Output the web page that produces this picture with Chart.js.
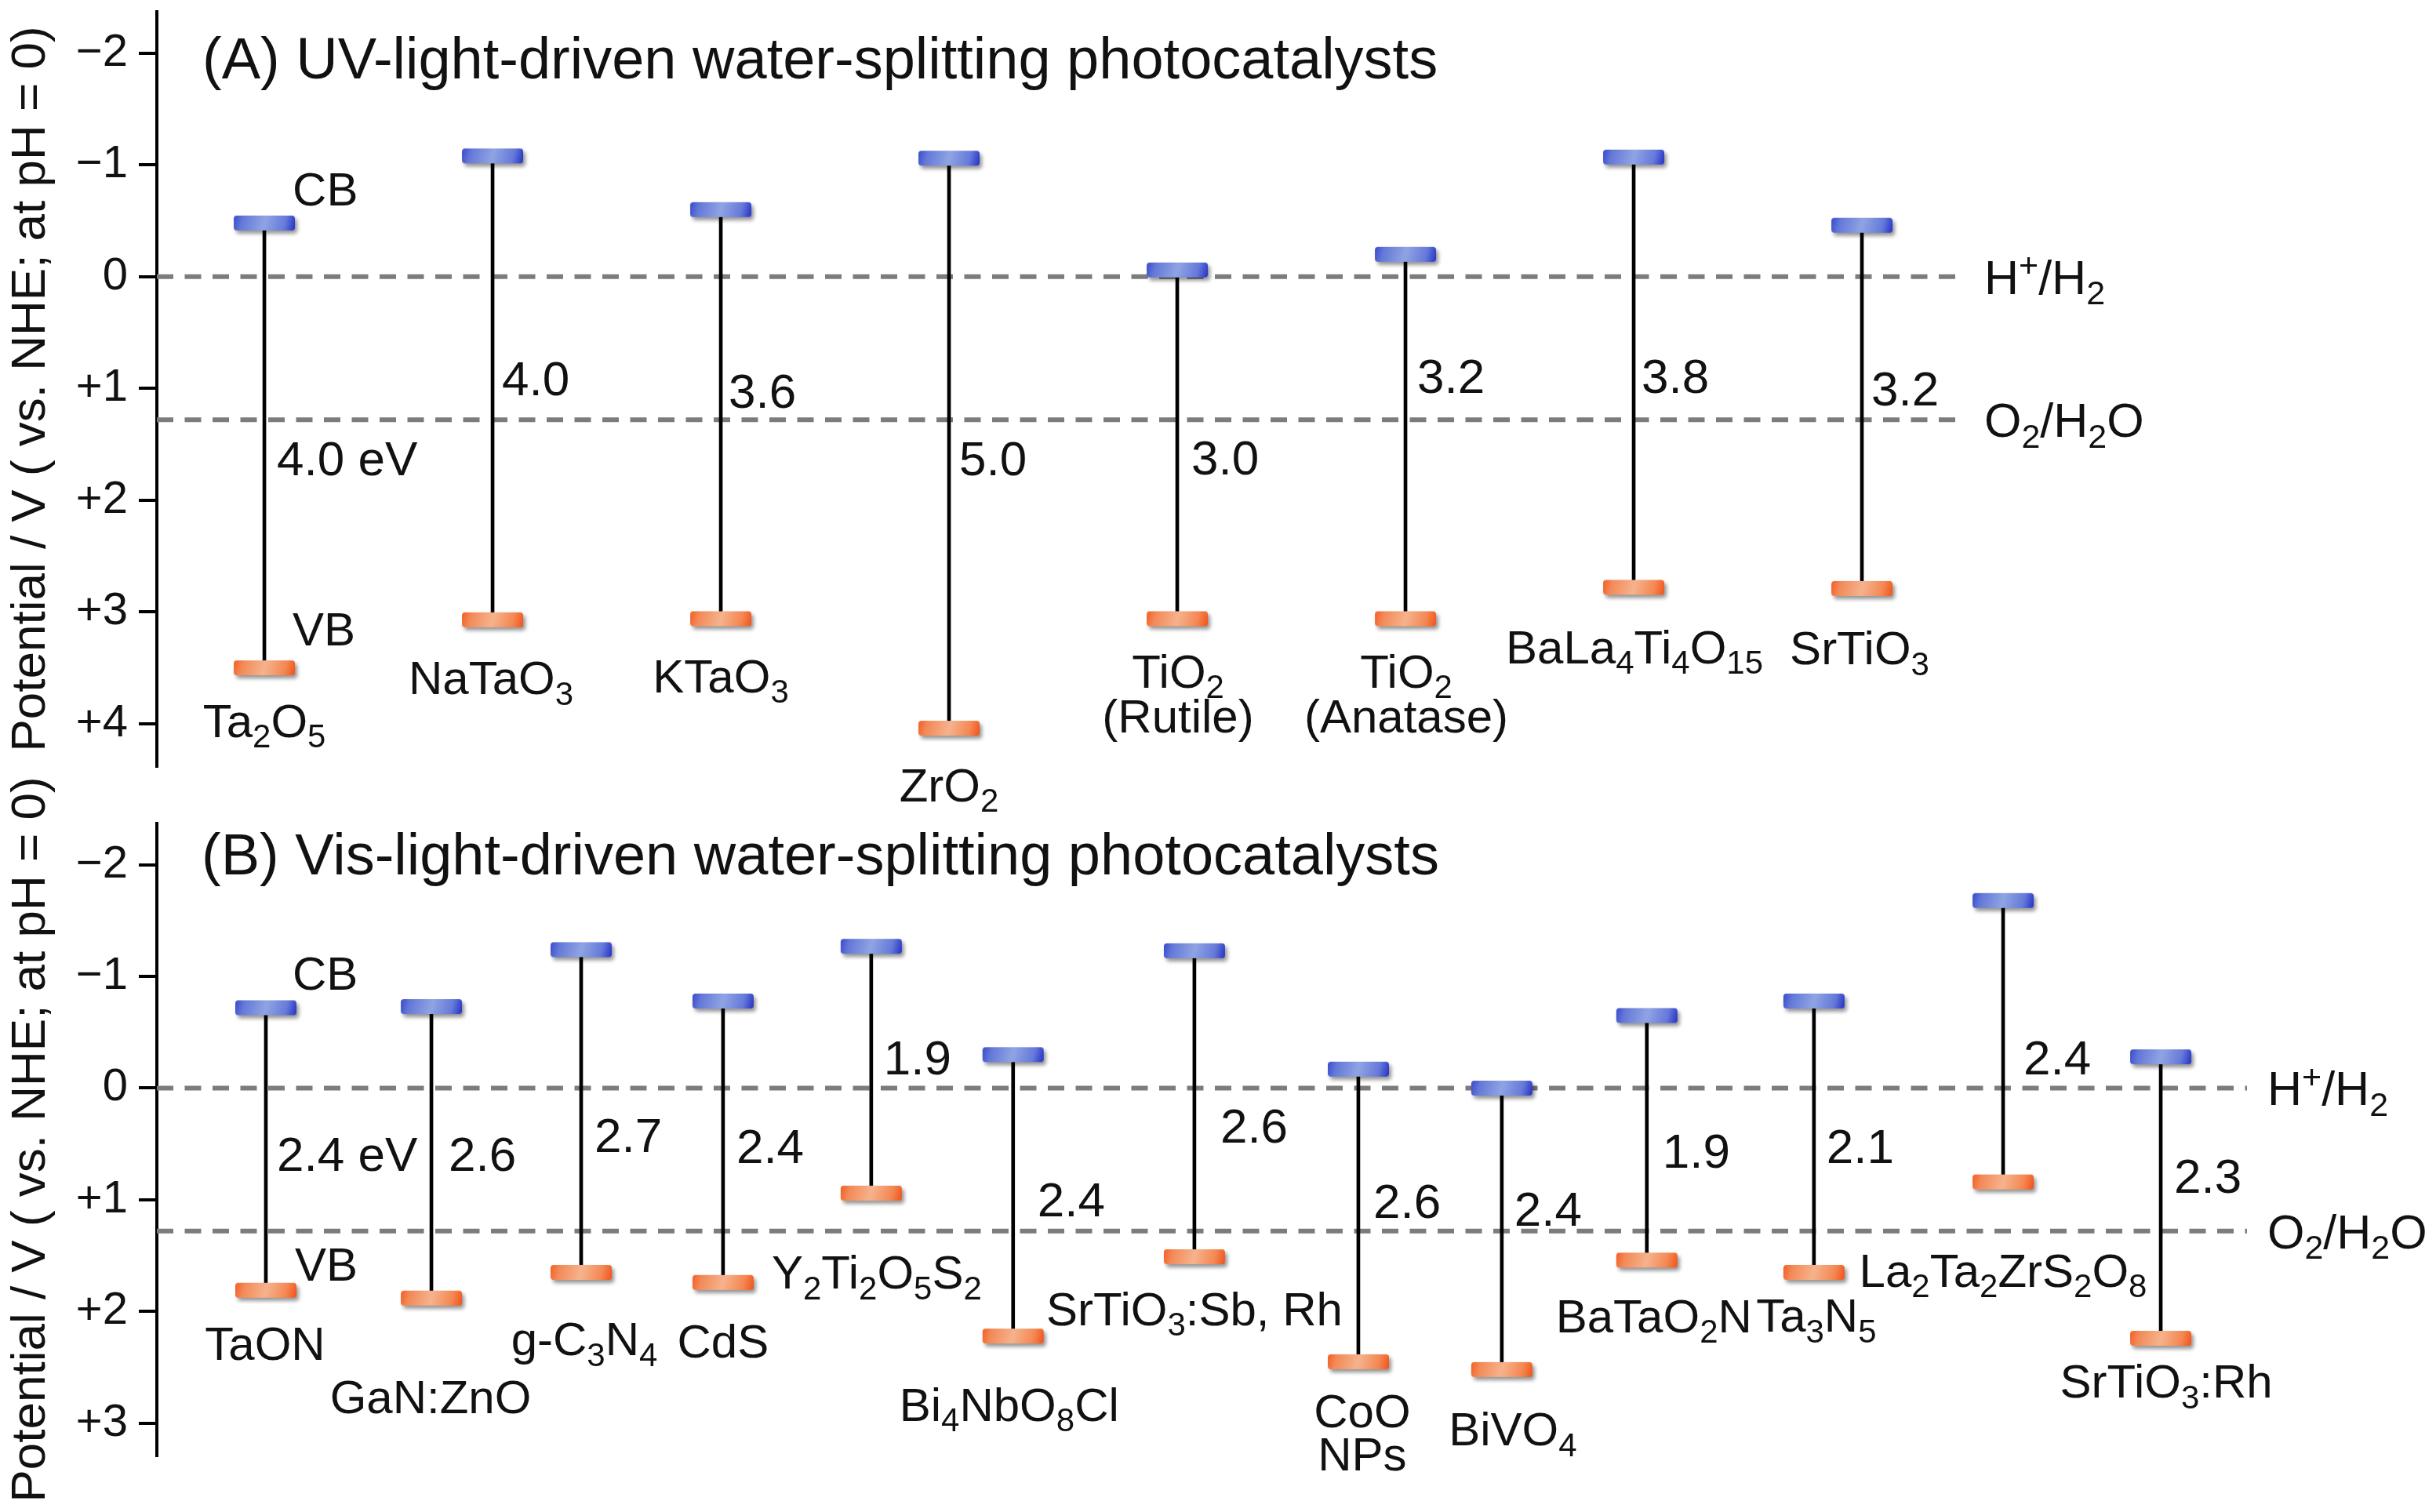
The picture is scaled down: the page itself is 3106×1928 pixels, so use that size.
<!DOCTYPE html>
<html>
<head>
<meta charset="utf-8">
<script src="https://cdn.jsdelivr.net/npm/chart.js@4.4.1/dist/chart.umd.min.js"></script>
<style>
  html, body { margin: 0; padding: 0; background: #fff; }
  #wrap { position: relative; width: 3106px; height: 1928px; overflow: hidden; }
  canvas { position: absolute; left: 0; }
  #panelA { top: 0; }
  #panelB { top: 990px; }
</style>
</head>
<body>
<div id="wrap">
  <canvas id="panelA" width="3106" height="1060"></canvas>
  <canvas id="panelB" width="3106" height="938"></canvas>
</div>
<script>
(function(){
  'use strict';

  const FONT = "'Liberation Sans', Arial, Helvetica, sans-serif";

  // ---- data: panel A (UV) ----
  const namesA = ['Ta_2O_5', 'NaTaO_3', 'KTaO_3', 'ZrO_2', 'TiO_2\n(Rutile)', 'TiO_2\n(Anatase)', 'BaLa_4Ti_4O_{15}', 'SrTiO_3'];
  const slotsA = [0, 1, 2, 3, 4, 5, 6, 7];
  const cbA = [-0.48, -1.08, -0.60, -1.06, -0.06, -0.20, -1.07, -0.46];
  const vbA = [3.50, 3.07, 3.06, 4.04, 3.06, 3.06, 2.78, 2.79];
  const gapA = ['4.0 eV', '4.0', '3.6', '5.0', '3.0', '3.2', '3.8', '3.2'];
  const ticksA = [-2, -1, 0, 1, 2, 3, 4];

  // ---- data: panel B (visible) ----
  const namesB = ['TaON', 'GaN:ZnO', 'g-C_3N_4', 'CdS', 'Y_2Ti_2O_5S_2', 'Bi_4NbO_8Cl', 'SrTiO_3:Sb, Rh',
                  'CoO\nNPs', 'BiVO_4', 'BaTaO_2N', 'Ta_3N_5', 'La_2Ta_2ZrS_2O_8', 'SrTiO_3:Rh'];
  const slotsB = [0, 1.05, 2.0, 2.9, 3.84, 4.74, 5.89, 6.93, 7.84, 8.76, 9.82, 11.02, 12.02];
  const cbB = [-0.72, -0.73, -1.24, -0.78, -1.27, -0.30, -1.23, -0.17, 0.00, -0.65, -0.78, -1.68, -0.28];
  const vbB = [1.81, 1.88, 1.65, 1.74, 0.94, 2.22, 1.51, 2.45, 2.52, 1.54, 1.65, 0.84, 2.24];
  const gapB = ['2.4 eV', '2.6', '2.7', '2.4', '1.9', '2.4', '2.6', '2.6', '2.4', '1.9', '2.1', '2.4', '2.3'];
  const ticksB = [-2, -1, 0, 1, 2, 3];

  // redox levels (V vs NHE)
  const redoxLabels = ['H^+/H_2', 'O_2/H_2O'];
  const redoxValues = [0, 1.28];

  // ---- text placement (layout only) ----
  const nameOffA = [[0, 88], [-2, 95], [0, 94], [0, 93], [1, 88], [1, 88], [1, 97], [-3, 97]];
  const gapPosA = [[16, 1.78], [12, 1.06], [10, 1.17], [13, 1.78], [18, 1.77], [15, 1.04], [10, 1.04], [12, 1.15]];
  const nameOffB = [[-1, 89], [-1, 147], [4, 106], [0, 96], [7, 122], [-5, 108], [0, 87],
                    [5, 84], [14, 97], [9, 92], [3, 76], [0, 134], [7, 76]];
  const gapPosB = [[14, 0.74], [22, 0.74], [17, 0.57], [17, 0.67], [16, -0.12], [31, 1.15], [33, 0.49],
                   [19, 1.16], [16, 1.23], [20, 0.71], [16, 0.67], [26, -0.12], [17, 0.94]];

  function parseRich(str) {
    const parts = [];
    let i = 0;
    while (i < str.length) {
      const c = str[i];
      if (c === '_' || c === '^') {
        let t;
        if (str[i + 1] === '{') { const j = str.indexOf('}', i); t = str.slice(i + 2, j); i = j + 1; }
        else { t = str[i + 1]; i += 2; }
        parts.push({ t, mode: c });
      } else {
        let j = i;
        while (j < str.length && str[j] !== '_' && str[j] !== '^') j++;
        parts.push({ t: str.slice(i, j), mode: '' });
        i = j;
      }
    }
    return parts;
  }

  function drawRich(ctx, str, x, y, size, align) {
    const parts = parseRich(str);
    const small = Math.round(size * 0.7);
    let total = 0;
    parts.forEach(p => {
      ctx.font = (p.mode ? small : size) + 'px ' + FONT;
      p.w = ctx.measureText(p.t).width;
      total += p.w;
    });
    let cx = align === 'center' ? x - total / 2 : (align === 'right' ? x - total : x);
    ctx.textAlign = 'left';
    ctx.textBaseline = 'alphabetic';
    parts.forEach(p => {
      ctx.font = (p.mode ? small : size) + 'px ' + FONT;
      const dy = p.mode === '_' ? size * 0.22 : (p.mode === '^' ? -size * 0.36 : 0);
      ctx.fillText(p.t, cx, y + dy);
      cx += p.w;
    });
  }

  function bandImage(stops) {
    const w = 78, h = 19, pad = 12;
    const c = document.createElement('canvas');
    c.width = w + pad * 2;
    c.height = h + pad * 2;
    const g = c.getContext('2d');
    const grad = g.createLinearGradient(pad, pad, pad + w, pad + h);
    stops.forEach(s => grad.addColorStop(s[0], s[1]));
    g.shadowColor = 'rgba(0,0,0,0.42)';
    g.shadowBlur = 5;
    g.shadowOffsetX = 3;
    g.shadowOffsetY = 4;
    g.fillStyle = grad;
    g.beginPath();
    g.roundRect(pad, pad, w, h, 4);
    g.fill();
    return c;
  }

  const cbImg = bandImage([[0, '#3a4bcc'], [0.15, '#6479d8'], [0.5, '#90a4e4'], [0.82, '#667ada'], [1, '#2531c6']]);
  const vbImg = bandImage([[0, '#f45f25'], [0.15, '#f38a58'], [0.5, '#f6b38d'], [0.82, '#f48853'], [1, '#f25218']]);

  const fmtTick = v => v < 0 ? '\u2212' + Math.abs(v) : (v > 0 ? '+' + v : '0');

  function buildPanel(canvasId, p) {
    const labels = {
      id: 'bandLabels',
      afterDatasetsDraw(chart) {
        const { ctx, chartArea: a, scales: { x, y } } = chart;
        ctx.save();
        ctx.fillStyle = '#111';
        ctx.font = '74px ' + FONT;
        ctx.textAlign = 'left';
        ctx.textBaseline = 'alphabetic';
        ctx.fillText(p.title, a.left + p.titlePos[0], a.top + p.titlePos[1]);

        p.slots.forEach((s, i) => {
          const px = x.getPixelForValue(s);
          const vbY = y.getPixelForValue(p.vb[i]);
          const g = p.gapPos[i];
          drawRich(ctx, p.gaps[i], px + g[0], y.getPixelForValue(g[1]), 62, 'left');
          const n = p.nameOff[i];
          p.names[i].split('\n').forEach((line, k) => {
            drawRich(ctx, line, px + n[0], vbY + n[1] + k * p.lineGap, 60, 'center');
          });
        });

        const x0 = x.getPixelForValue(p.slots[0]);
        drawRich(ctx, 'CB', x0 + p.cbTag[0], y.getPixelForValue(p.cb[0]) + p.cbTag[1], 60, 'left');
        drawRich(ctx, 'VB', x0 + p.vbTag[0], y.getPixelForValue(p.vb[0]) + p.vbTag[1], 60, 'left');

        redoxLabels.forEach((t, k) => {
          drawRich(ctx, t, a.right + p.redoxDx, y.getPixelForValue(redoxValues[k]) + 22, 61, 'left');
        });
        ctx.restore();
      }
    };

    const redoxSets = redoxValues.map(v => ({
      type: 'line',
      data: [{ x: p.xMin, y: v }, { x: p.xMax, y: v }],
      borderColor: '#7c7c7c',
      borderWidth: 6,
      borderDash: [21, 14.5],
      pointRadius: 0,
      order: 5
    }));

    return new Chart(document.getElementById(canvasId), {
      type: 'scatter',
      data: {
        datasets: [
          ...redoxSets,
          {
            type: 'bar',
            data: p.slots.map((s, i) => ({ x: s, y: [p.cb[i], p.vb[i]] })),
            backgroundColor: '#000',
            borderWidth: 0,
            barThickness: 4,
            order: 3
          },
          {
            type: 'scatter',
            data: p.slots.map((s, i) => ({ x: s, y: p.cb[i] })),
            pointStyle: cbImg,
            pointRadius: 6,
            order: 1
          },
          {
            type: 'scatter',
            data: p.slots.map((s, i) => ({ x: s, y: p.vb[i] })),
            pointStyle: vbImg,
            pointRadius: 6,
            order: 1
          }
        ]
      },
      options: {
        responsive: false,
        animation: false,
        events: [],
        layout: { padding: p.padding },
        plugins: { legend: { display: false }, tooltip: { enabled: false } },
        scales: {
          x: { type: 'linear', display: false, min: p.xMin, max: p.xMax, offset: false },
          y: {
            type: 'linear',
            reverse: true,
            min: p.yMin,
            max: p.yMax,
            afterBuildTicks: scale => { scale.ticks = p.ticks.map(v => ({ value: v })); },
            afterFit: scale => {
              scale.width = 200;
              scale.paddingTop = 0;
              scale.paddingBottom = 0;
            },
            border: { display: true, color: '#000', width: 4 },
            grid: { drawOnChartArea: false, drawTicks: true, tickLength: 23, tickWidth: 4, tickColor: '#000', lineWidth: 4, color: '#000' },
            ticks: {
              color: '#111',
              padding: 14,
              font: { size: 58, family: FONT },
              callback: v => fmtTick(v)
            },
            title: {
              display: true,
              text: 'Potential / V ( vs. NHE; at pH = 0)',
              color: '#111',
              font: { size: 62, family: FONT },
              padding: { top: 3, bottom: 0 }
            }
          }
        }
      },
      plugins: [labels]
    });
  }

  Chart.defaults.font.family = FONT;

  buildPanel('panelA', {
    title: '(A) UV-light-driven water-splitting photocatalysts',
    titlePos: [58, 85],
    names: namesA, slots: slotsA, cb: cbA, vb: vbA, gaps: gapA, ticks: ticksA,
    nameOff: nameOffA, gapPos: gapPosA, lineGap: 57,
    cbTag: [36, -22], vbTag: [36, -29],
    redoxDx: 23,
    xMin: -0.471, xMax: 7.457, yMin: -2.37, yMax: 4.38,
    padding: { top: 15, bottom: 83, left: 0, right: 599 }
  });

  buildPanel('panelB', {
    title: '(B) Vis-light-driven water-splitting photocatalysts',
    titlePos: [57, 65],
    names: namesB, slots: slotsB, cb: cbB, vb: vbB, gaps: gapB, ticks: ticksB,
    nameOff: nameOffB, gapPos: gapPosB, lineGap: 55,
    cbTag: [34, -23], vbTag: [37, -12],
    redoxDx: 26,
    xMin: -0.6915, xMax: 12.567, yMin: -2.37, yMax: 3.29,
    padding: { top: 60, bottom: 72, left: 0, right: 241 }
  });
})();
</script>
</body>
</html>
